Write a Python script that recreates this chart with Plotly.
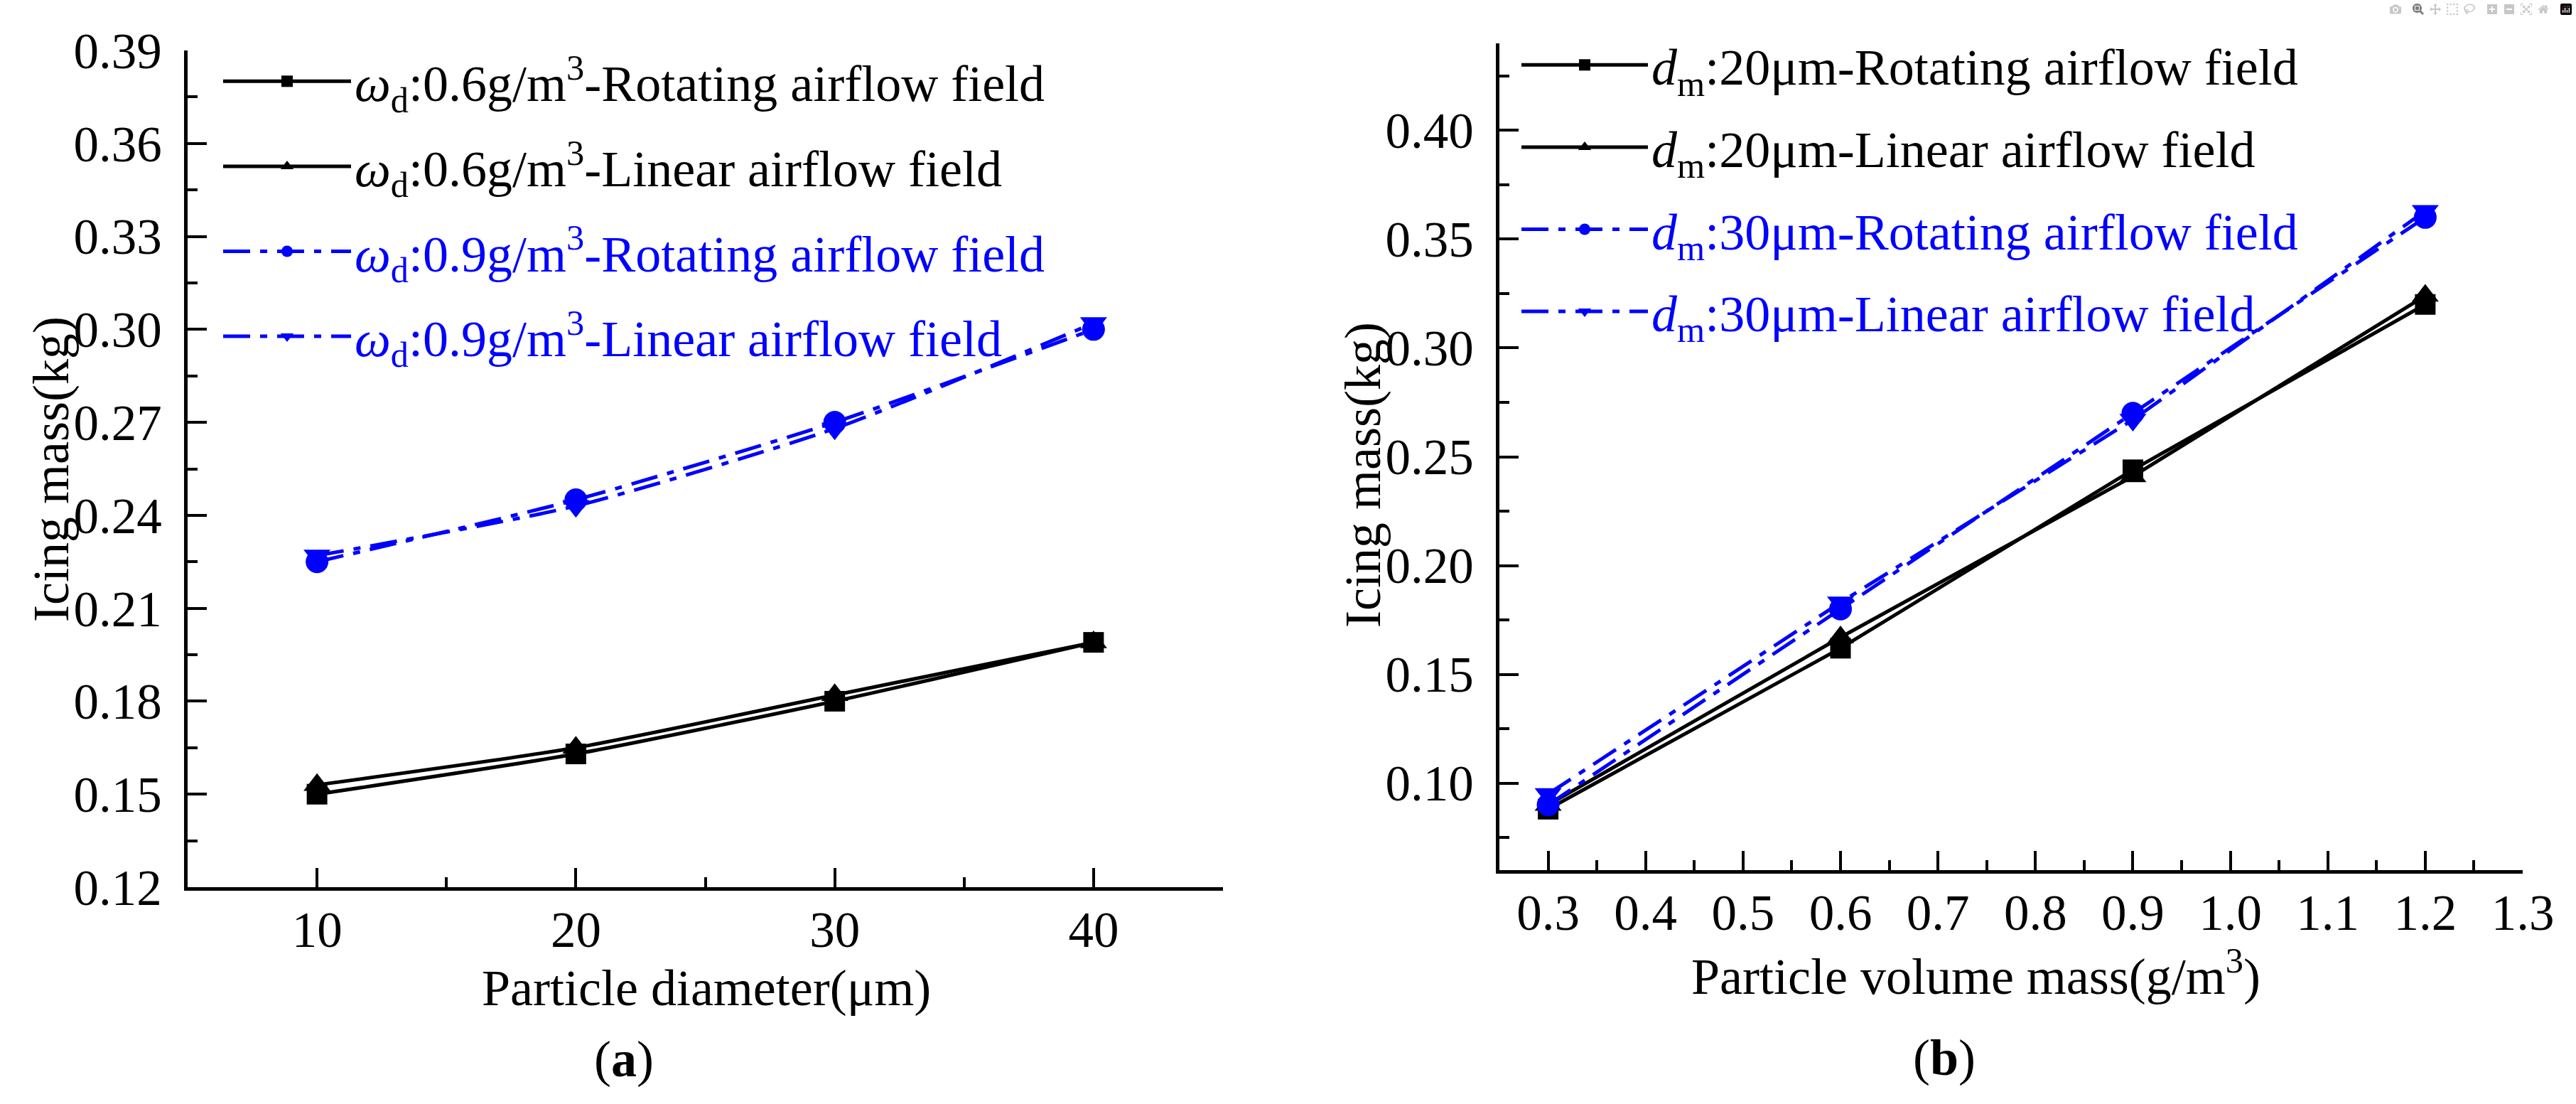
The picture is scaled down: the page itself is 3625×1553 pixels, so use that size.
import plotly.graph_objects as go

W, H = 3625, 1553
FONT = "Liberation Serif"
BLUE = "#0000FF"
DASH = "38px,14px,10px,14px"

# (a) particle diameter
diam = [10, 20, 30, 40]
rot_06 = [0.150, 0.163, 0.180, 0.199]
lin_06 = [0.153, 0.165, 0.182, 0.199]
rot_09 = [0.225, 0.245, 0.270, 0.300]
lin_09 = [0.227, 0.243, 0.268, 0.302]

# (b) particle volume mass
vmass = [0.3, 0.6, 0.9, 1.2]
rot_20 = [0.088, 0.162, 0.244, 0.320]
lin_20 = [0.090, 0.167, 0.241, 0.324]
rot_30 = [0.090, 0.180, 0.270, 0.360]
lin_30 = [0.095, 0.183, 0.267, 0.363]

names_a = [
    "<i>ω</i><sub>d</sub>:0.6g/m<sup>3</sup>-Rotating airflow field",
    "<i>ω</i><sub>d</sub>:0.6g/m<sup>3</sup>-Linear airflow field",
    "<span style='color:#0000FF'><i>ω</i><sub>d</sub>:0.9g/m<sup>3</sup>-Rotating airflow field</span>",
    "<span style='color:#0000FF'><i>ω</i><sub>d</sub>:0.9g/m<sup>3</sup>-Linear airflow field</span>",
]
names_b = [
    "<i>d</i><sub>m</sub>:20μm-Rotating airflow field",
    "<i>d</i><sub>m</sub>:20μm-Linear airflow field",
    "<span style='color:#0000FF'><i>d</i><sub>m</sub>:30μm-Rotating airflow field</span>",
    "<span style='color:#0000FF'><i>d</i><sub>m</sub>:30μm-Linear airflow field</span>",
]

styles = [
    dict(color="black", dash="solid", symbol="square", size=29),
    dict(color="black", dash="solid", symbol="triangle-up", size=33),
    dict(color=BLUE, dash=DASH, symbol="circle", size=32),
    dict(color=BLUE, dash=DASH, symbol="triangle-down", size=33),
]


def px(x, y):
    return x / W, 1 - y / H


fig = go.Figure()

for i, (ys, nm, st) in enumerate(zip([rot_06, lin_06, rot_09, lin_09], names_a, styles)):
    fig.add_trace(go.Scatter(
        x=diam, y=ys, name=nm, mode="lines+markers",
        line=dict(color=st["color"], width=5, dash=st["dash"], shape="spline", smoothing=0.6),
        marker=dict(symbol=st["symbol"], size=st["size"], color=st["color"]),
        xaxis="x", yaxis="y", legend="legend", legendgroup="a%d" % i,
    ))

for i, (ys, nm, st) in enumerate(zip([rot_20, lin_20, rot_30, lin_30], names_b, styles)):
    fig.add_trace(go.Scatter(
        x=vmass, y=ys, name=nm, mode="lines+markers",
        line=dict(color=st["color"], width=5, dash=st["dash"]),
        marker=dict(symbol=st["symbol"], size=st["size"], color=st["color"]),
        xaxis="x2", yaxis="y2", legend="legend2", legendgroup="b%d" % i,
    ))

axis_common = dict(
    showline=True, linewidth=5, linecolor="black", mirror=False,
    showgrid=False, zeroline=False, automargin=False,
    ticks="inside", ticklen=27, tickwidth=4, tickcolor="black",
    tickfont=dict(family=FONT, size=71, color="black"),
)
minor_common = dict(ticks="inside", ticklen=14, tickwidth=4, tickcolor="black")

fig.update_layout(
    width=W, height=H,
    margin=dict(l=0, r=0, t=0, b=0, autoexpand=False),
    paper_bgcolor="white", plot_bgcolor="white",
    font=dict(family=FONT, size=72, color="black"),
    xaxis=dict(domain=[264 / W, 1721 / W], range=[5, 45], tick0=10, dtick=10,
               anchor="y", ticklabelstandoff=-6,
               minor=dict(tick0=5, dtick=5, **minor_common),
               **axis_common),
    yaxis=dict(domain=[1 - 1248 / H, 1 - 71 / H], range=[0.12, 0.39], tick0=0.12, dtick=0.03,
               tickformat=".2f", anchor="x", ticklabelstandoff=17,
               minor=dict(tick0=0.135, dtick=0.03, **minor_common),
               **axis_common),
    xaxis2=dict(domain=[2110 / W, 3550 / W], range=[0.25, 1.3], tick0=0.3, dtick=0.1,
                tickformat=".1f", anchor="y2", ticklabelstandoff=-6,
                minor=dict(tick0=0.25, dtick=0.05, **minor_common),
                **axis_common),
    yaxis2=dict(domain=[1 - 1224 / H, 1 - 61 / H], range=[0.06, 0.44], tick0=0.1, dtick=0.05,
                tickformat=".2f", anchor="x2", ticklabelstandoff=17,
                minor=dict(tick0=0.075, dtick=0.05, **minor_common),
                **axis_common),
    legend=dict(x=px(309, 0)[0], y=px(0, 61)[1], xanchor="left", yanchor="top",
                bgcolor="rgba(0,0,0,0)", borderwidth=0, itemwidth=180,
                font=dict(family=FONT, size=72, color="black"),
                traceorder="grouped", tracegroupgap=23, itemclick=False),
    legend2=dict(x=px(2136, 0)[0], y=px(0, 38)[1], xanchor="left", yanchor="top",
                 bgcolor="rgba(0,0,0,0)", borderwidth=0, itemwidth=178,
                 font=dict(family=FONT, size=72, color="black"),
                 traceorder="grouped", tracegroupgap=19, itemclick=False),
    showlegend=True,
)

annots = [
    dict(text="Particle diameter(μm)", x=994, y=1390, angle=0),
    dict(text="Particle volume mass(g/m<sup>3</sup>)", x=2780, y=1368, angle=0),
    dict(text="Icing mass(kg)", x=72, y=660, angle=-90),
    dict(text="Icing mass(kg)", x=1918, y=668, angle=-90),
    dict(text="(<b>a</b>)", x=878, y=1490, angle=0),
    dict(text="(<b>b</b>)", x=2736, y=1488, angle=0),
]
for a in annots:
    ax, ay = px(a["x"], a["y"])
    fig.add_annotation(text=a["text"], x=ax, y=ay, xref="paper", yref="paper",
                       xanchor="center", yanchor="middle", textangle=a["angle"],
                       showarrow=False, font=dict(family=FONT, size=72, color="black"))

fig.write_html("out.html", post_script="document.body.style.margin='0';")
